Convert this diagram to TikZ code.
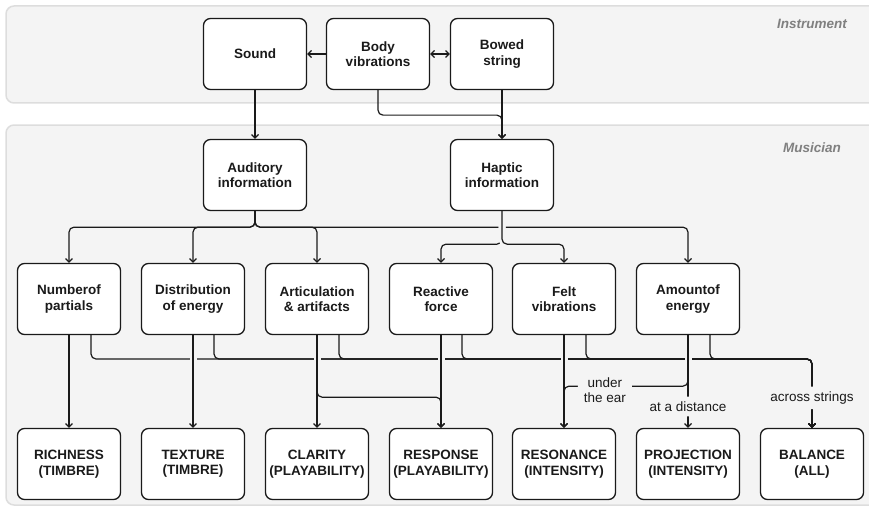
\documentclass[tikz,border=0pt]{standalone}
\usepackage{fontspec}
\setmainfont{Liberation Sans}
\usetikzlibrary{arrows.meta}
\definecolor{cbg}{HTML}{F4F4F4}
\definecolor{cbd}{HTML}{DDDDDD}
\definecolor{ink}{HTML}{1A1A1A}
\definecolor{lab}{HTML}{808080}
\pgfdeclarelayer{bglayer}
\pgfdeclarelayer{lines}
\pgfsetlayers{bglayer,lines,main}
\begin{document}
\begin{tikzpicture}[x=1pt,y=-1pt,
 box/.style={draw=ink, text=ink, line width=1.3pt, fill=white, rounded corners=7pt,
   minimum width=103pt, minimum height=71pt, align=center,
   font=\bfseries\fontsize{13.5}{15.5}\selectfont, inner sep=1pt},
 conn/.style={draw=ink, line width=1.2pt, rounded corners=5pt},
 arr/.style={-{Straight Barb[length=3.5pt,width=7pt]}},
 halo/.style={preaction={draw=cbg, line width=7pt, -}},
 lbl/.style={fill=cbg, text=ink, font=\fontsize{13.5}{15.5}\selectfont,
   inner xsep=2pt, inner ysep=5pt, align=center},
 zone/.style={fill=cbg, draw=cbd, line width=1.5pt, rounded corners=8pt},
 zlabel/.style={text=lab, font=\bfseries\itshape\fontsize{13.5}{15.5}\selectfont}]
\useasboundingbox (0,0) rectangle (869,508);
\clip (0,0) rectangle (869,508);

\begin{pgfonlayer}{bglayer}
  \path[zone] (6,6) rectangle (885,103);
  \path[zone] (6,125) rectangle (885,505);
\end{pgfonlayer}
\node[zlabel] (tinst) at (812,24) {Instrument};
\node[zlabel] (tmus) at (812,148) {Musician};

% nodes
\node[box] (sound) at (255,54) {Sound};
\node[box] (body) at (378,54) {Body\\vibrations};
\node[box] (bowed) at (502,54) {Bowed\\string};
\node[box] (aud) at (255,175) {Auditory\\information};
\node[box] (hap) at (502,175) {Haptic\\information};

\node[box] (num) at (69,299) {Numberof\\partials};
\node[box] (dist) at (193,299) {Distribution\\of energy};
\node[box] (art) at (317,299) {Articulation\\\& artifacts};
\node[box] (react) at (441,299) {Reactive\\force};
\node[box] (felt) at (564,299) {Felt\\vibrations};
\node[box] (amt) at (688,299) {Amountof\\energy};

\node[box] (rich) at (69,464) {RICHNESS\\(TIMBRE)};
\node[box] (tex) at (193,464) {TEXTURE\\(TIMBRE)};
\node[box] (clar) at (317,464) {CLARITY\\(PLAYABILITY)};
\node[box] (resp) at (441,464) {RESPONSE\\(PLAYABILITY)};
\node[box] (reso) at (564,464) {RESONANCE\\(INTENSITY)};
\node[box] (proj) at (688,464) {PROJECTION\\(INTENSITY)};
\node[box] (bal) at (812,464) {BALANCE\\(ALL)};

\begin{pgfonlayer}{lines}
  % instrument level
  \draw[conn,arr] (body.west) -- (sound.east);
  \draw[conn,{Straight Barb[length=3.5pt,width=7pt]}-{Straight Barb[length=3.5pt,width=7pt]}] (body.east) -- (bowed.west);
  \draw[conn,arr] (sound.south) -- (aud.north);
  \draw[conn,arr] (body.south) -- ++(0,25) -| (hap.north);
  \draw[conn,arr] (bowed.south) -- (hap.north);

  % auditory branches
  \draw[conn,arr] (aud.south) -- ++(0,16) -| (num.north);
  \draw[conn,arr] (aud.south) -- ++(0,16) -| (dist.north);
  \draw[conn,arr] (aud.south) -- ++(0,16) -| (art.north);
  \draw[conn,arr] (aud.south) -- ++(0,16) -| (amt.north);

  % haptic branches (drawn over with gap)
  \draw[conn,arr,halo] (hap.south) -- ++(0,33) -| (react.north);
  \draw[conn,arr,halo] (hap.south) -- ++(0,33) -| (felt.north);

  % bus to balance
  \draw[conn,arr] ([xshift=22pt]num.south) |- (bal.north |- 0,359) -- (bal.north);
  \draw[conn,arr] ([xshift=21pt]dist.south) |- (bal.north |- 0,359) -- (bal.north);
  \draw[conn,arr] ([xshift=22pt]art.south) |- (bal.north |- 0,359) -- (bal.north);
  \draw[conn,arr] ([xshift=21pt]react.south) |- (bal.north |- 0,359) -- (bal.north);
  \draw[conn,arr] ([xshift=22pt]felt.south) |- (bal.north |- 0,359) -- (bal.north);
  \draw[conn,arr] ([xshift=22pt]amt.south) |- (bal.north |- 0,359) -- node[lbl,pos=0.565] (lacross) {across strings} (bal.north);

  % verticals crossing the bus
  \draw[conn,arr,halo] (num.south) -- (rich.north);
  \draw[conn,arr,halo] (dist.south) -- (tex.north);
  \draw[conn,arr,halo] (art.south) -- (clar.north);
  \draw[conn,arr,halo] (react.south) -- (resp.north);
  \draw[conn,arr,halo] (felt.south) -- (reso.north);
  \draw[conn,arr,halo] (amt.south) -- node[lbl,pos=0.77] (ldist) {at a distance} (proj.north);

  % merging connectors
  \draw[conn,arr] (art.south) -- ++(0,62) -| (resp.north);
  \draw[conn,arr] (amt.south) -- ++(0,51) -- node[lbl,pos=0.67,yshift=-4pt,inner ysep=1pt,inner xsep=6pt] (lear) {under\\the ear} ++(-124,0) -- (reso.north);
\end{pgfonlayer}
\end{tikzpicture}
\end{document}
